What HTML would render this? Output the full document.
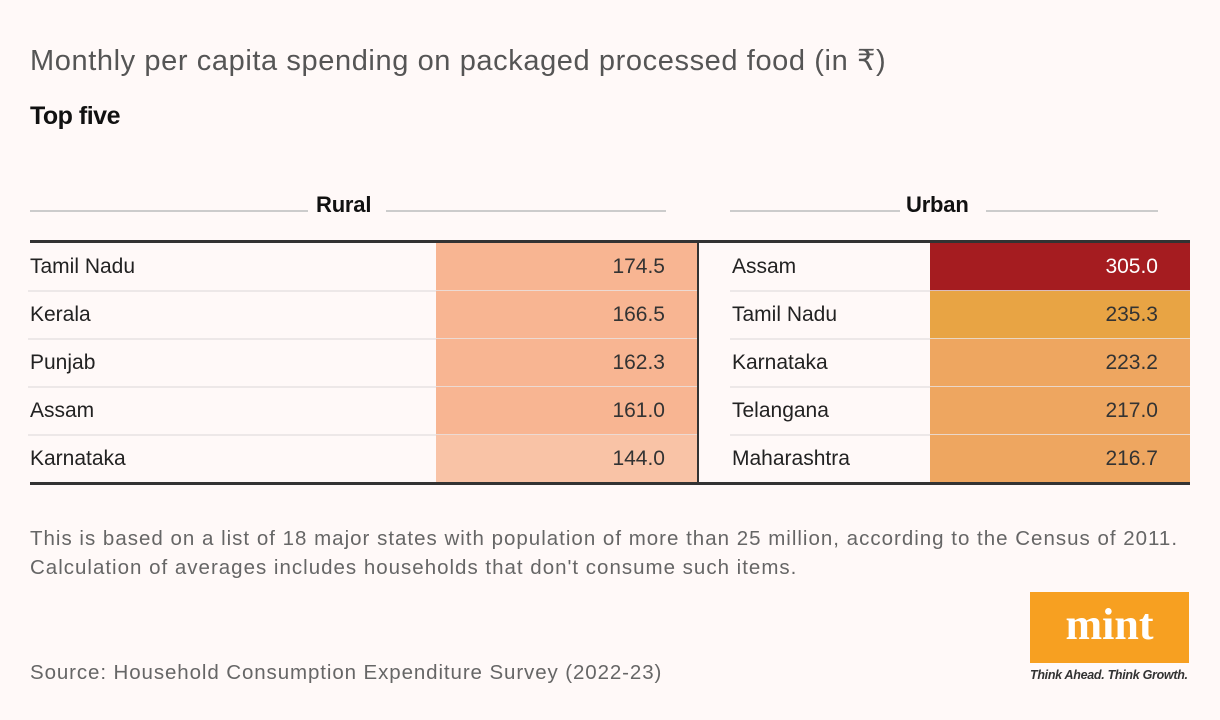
<!DOCTYPE html>
<html><head><meta charset="utf-8">
<style>
body{margin:0;width:1220px;height:720px;background:#fff9f8;font-family:"Liberation Sans",sans-serif;color:#222;position:relative;overflow:hidden}
.abs{position:absolute}
.title{left:30px;top:43px;font-size:29px;color:#555;font-weight:300;letter-spacing:0.6px}
.sub{left:30px;top:102px;font-size:25px;font-weight:bold;color:#111;letter-spacing:-0.5px}
.hdr{font-size:22px;font-weight:bold;color:#111;top:192px;letter-spacing:-0.2px}
.hl{height:2px;background:#ccc;top:210px}
.row{position:absolute;height:48px;line-height:48px;font-size:21px;color:#222}
.sep{position:absolute;height:2px;background:#e8e4e3}
.note{left:30px;top:524px;font-size:20.5px;color:#666;line-height:29px;letter-spacing:1px;white-space:nowrap}
.src{left:30px;top:661px;font-size:20.5px;color:#666;letter-spacing:0.9px}
</style></head><body>
<div class="abs title">Monthly per capita spending on packaged processed food (in ₹)</div>
<div class="abs sub">Top five</div>
<div class="abs hl" style="left:30px;width:278px"></div>
<div class="abs hdr" style="left:316px">Rural</div>
<div class="abs hl" style="left:386px;width:280px"></div>
<div class="abs hl" style="left:730px;width:170px"></div>
<div class="abs hdr" style="left:906px">Urban</div>
<div class="abs hl" style="left:986px;width:172px"></div>
<div id="table"></div>
<div class="abs" style="left:30px;top:240px;width:1160px;height:3px;background:#333"></div>
<div class="abs" style="left:30px;top:482px;width:1160px;height:3px;background:#333"></div>
<div class="abs" style="left:697px;top:243px;width:2px;height:239px;background:#333"></div>
<div class="abs note">This is based on a list of 18 major states with population of more than 25 million, according to the Census of 2011.<br>Calculation of averages includes households that don't consume such items.</div>
<div class="abs src">Source: Household Consumption Expenditure Survey (2022-23)</div>
<div class="abs" style="left:1030px;top:592px;width:159px;height:71px;background:#f7a021;color:#fff;font-family:'Liberation Serif',serif;font-weight:bold;font-size:44px;text-align:center;line-height:66px">mint</div>
<div class="abs" style="left:1030px;top:668px;font-size:12.5px;font-style:italic;font-weight:bold;color:#333;letter-spacing:-0.3px">Think Ahead. Think Growth.</div>
<script>
const ruralStates=["Tamil Nadu","Kerala","Punjab","Assam","Karnataka"];
const ruralValues=[174.5,166.5,162.3,161.0,144.0];
const urbanStates=["Assam","Tamil Nadu","Karnataka","Telangana","Maharashtra"];
const urbanValues=[305.0,235.3,223.2,217.0,216.7];
function ruralColor(v){return v>=160?"#f8b592":"#f9c3a6";}
function urbanColor(v){return v>=300?"#a51c20":(v>=230?"#e8a444":"#eea660");}
const t=document.getElementById('table');
function build(states,vals,nameX,cellX,cellW,colorFn,prefix){
 states.forEach((s,i)=>{
  const y=243+i*48;
  const c=document.createElement('div');
  c.className='row';
  c.style.left=cellX+'px';c.style.top=y+'px';c.style.width=cellW+'px';
  c.style.background=colorFn(vals[i]);
  c.style.textAlign='right';c.style.boxSizing='border-box';c.style.paddingRight='32px';
  c.style.color=vals[i]>=300?'#fff':'#333';
  c.textContent=vals[i].toFixed(1);
  
  
  t.appendChild(c);
  const n=document.createElement('div');
  n.className='row';
  n.style.left=nameX+'px';n.style.top=y+'px';
  n.textContent=s;
  
  
  t.appendChild(n);
  if(i<states.length-1){
   const l=document.createElement('div');
   l.className='sep';
   l.style.left=(nameX-2)+'px';l.style.top=(y+47)+'px';l.style.width=(cellX+cellW-nameX+2)+'px';
   l.style.opacity='0.8';
   
   
   t.appendChild(l);
  }
 });
}
build(ruralStates,ruralValues,30,436,261,ruralColor,'rural');
build(urbanStates,urbanValues,732,930,260,urbanColor,'urban');
</script>
</body></html>
